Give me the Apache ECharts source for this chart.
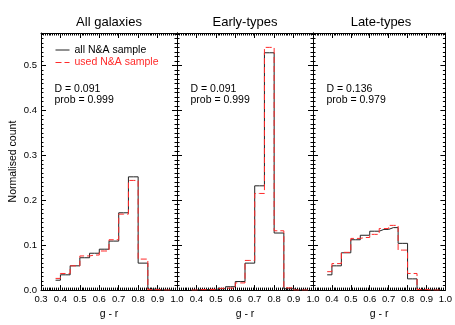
<!DOCTYPE html>
<html>
<head>
<meta charset="utf-8">
<script src="https://cdn.jsdelivr.net/npm/echarts@6/dist/echarts.min.js"></script>
<style>html,body{margin:0;padding:0;background:#fff;}#c{width:455px;height:325px;}</style>
</head>
<body>
<div id="c"></div>
<script>
// bin centres (g - r)
var binCentres = [0.375, 0.425, 0.475, 0.525, 0.575, 0.625, 0.675, 0.725, 0.775, 0.825, 0.875, 0.925, 0.975];
var panelTitles = ['All galaxies', 'Early-types', 'Late-types'];
var statD = ['0.091', '0.091', '0.136'];
var statProb = ['0.999', '0.999', '0.979'];
var seriesNames = ['all N&A sample', 'used N&A sample'];
// All galaxies
var allBlack = [0.022, 0.034, 0.054, 0.072, 0.082, 0.091, 0.109, 0.172, 0.252, 0.060, 0.002, 0.000, 0.000];
var allRed   = [0.026, 0.037, 0.054, 0.076, 0.078, 0.087, 0.112, 0.169, 0.244, 0.069, 0.001, 0.000, 0.000];
// Early-types
var earlyBlack = [0.000, 0.001, 0.0015, 0.003, 0.0075, 0.019, 0.060, 0.232, 0.528, 0.127, 0.003, 0.000, 0.000];
var earlyRed   = [0.000, 0.001, 0.0015, 0.004, 0.0045, 0.016, 0.066, 0.215, 0.540, 0.132, 0.005, 0.000, 0.000];
// Late-types
var lateBlack = [0.034, 0.054, 0.083, 0.112, 0.122, 0.131, 0.135, 0.139, 0.104, 0.025, 0.001, 0.000, 0.000];
var lateRed   = [0.041, 0.059, 0.084, 0.115, 0.117, 0.124, 0.137, 0.144, 0.089, 0.037, 0.0015, 0.000, 0.000];

var xMin = 0.3, xMax = 1.0, xStep = 0.1;
var yMin = 0, yMax = 0.572, yStep = 0.1;
var xLabel = 'g - r', yLabel = 'Normalised count';

var blackSets = [allBlack, earlyBlack, lateBlack];
var redSets = [allRed, earlyRed, lateRed];

var FONT = '"Liberation Sans", Arial, Helvetica, sans-serif';
var RED = '#ff2a2a';
var panelLeft = [41, 177, 313];
var panelW = 136, panelTop = 33, panelH = 257.7;

function pairs(vals) {
  return binCentres.map(function (x, i) { return [x, vals[i]]; });
}

var grids = [], xAxes = [], yAxes = [], series = [], graphics = [];
for (var p = 0; p < 3; p++) {
  grids.push({ left: panelLeft[p], top: panelTop, width: panelW, height: panelH, containLabel: false });
  var tickCommon = { show: true, inside: true, length: 5, lineStyle: { color: '#000', width: 1 } };
  var minorCommon = { show: true, splitNumber: 10, length: 2.5, lineStyle: { color: '#000', width: 1 } };
  xAxes.push({
    type: 'value', gridIndex: p, position: 'bottom', min: xMin, max: xMax, interval: xStep,
    axisLine: { show: true, onZero: false, lineStyle: { color: '#000', width: 1 } },
    axisTick: tickCommon, minorTick: minorCommon, splitLine: { show: false },
    axisLabel: {
      show: true, margin: 4, color: '#000', fontFamily: FONT, fontSize: 9.5,
      showMinLabel: p === 0, showMaxLabel: true,
      formatter: function (v) { return v.toFixed(1); }
    },
    name: xLabel, nameLocation: 'middle', nameGap: 16,
    nameTextStyle: { color: '#000', fontFamily: FONT, fontSize: 10.5 }
  });
  xAxes.push({
    type: 'value', gridIndex: p, position: 'top', min: xMin, max: xMax, interval: xStep,
    axisLine: { show: true, onZero: false, lineStyle: { color: '#000', width: 1 } },
    axisTick: tickCommon, minorTick: minorCommon, splitLine: { show: false },
    axisLabel: { show: false }
  });
  yAxes.push({
    type: 'value', gridIndex: p, position: 'left', min: yMin, max: yMax, interval: yStep,
    axisLine: { show: true, onZero: false, lineStyle: { color: '#000', width: 1 } },
    axisTick: tickCommon, minorTick: minorCommon, splitLine: { show: false },
    axisLabel: {
      show: p === 0, margin: 4, color: '#000', fontFamily: FONT, fontSize: 9.5,
      showMaxLabel: false,
      formatter: function (v) { return v.toFixed(1); }
    },
    name: p === 0 ? yLabel : '', nameLocation: 'middle', nameGap: 22,
    nameTextStyle: { color: '#000', fontFamily: FONT, fontSize: 10.5 }
  });
  yAxes.push({
    type: 'value', gridIndex: p, position: 'right', min: yMin, max: yMax, interval: yStep,
    axisLine: { show: true, onZero: false, lineStyle: { color: '#000', width: 1 } },
    axisTick: tickCommon, minorTick: minorCommon, splitLine: { show: false },
    axisLabel: { show: false }
  });
  series.push({
    name: seriesNames[0], type: 'line', xAxisIndex: 2 * p, yAxisIndex: 2 * p,
    step: 'middle', symbol: 'none', silent: true, animation: false,
    lineStyle: { color: '#222', width: 1, type: 'solid' }, itemStyle: { color: '#222' },
    data: pairs(blackSets[p])
  });
  series.push({
    name: seriesNames[1], type: 'line', xAxisIndex: 2 * p, yAxisIndex: 2 * p,
    step: 'middle', symbol: 'none', silent: true, animation: false,
    lineStyle: { color: RED, width: 1, type: [6, 3] }, itemStyle: { color: RED },
    data: pairs(redSets[p])
  });
  graphics.push({
    type: 'text', x: panelLeft[p] + panelW / 2, y: 22, silent: true,
    style: { text: panelTitles[p], fill: '#000', font: '13px ' + FONT, textAlign: 'center', textVerticalAlign: 'middle' }
  });
  graphics.push({
    type: 'text', x: panelLeft[p] + 13.5, y: 83, silent: true,
    style: { text: 'D = ' + statD[p] + '\nprob = ' + statProb[p], fill: '#000', font: '10.5px ' + FONT, lineHeight: 11.5, textVerticalAlign: 'top' }
  });
}

var chart = echarts.init(document.getElementById('c'), null, { renderer: 'canvas' });
chart.setOption({
  animation: false,
  backgroundColor: '#fff',
  grid: grids,
  xAxis: xAxes,
  yAxis: yAxes,
  legend: {
    orient: 'vertical', left: 50, top: 39.5, itemWidth: 14, itemHeight: 10, itemGap: 1.5,
    selectedMode: false,
    itemStyle: { opacity: 0 },
    lineStyle: { width: 1 },
    textStyle: { fontFamily: FONT, fontSize: 10.5, color: '#000' },
    data: [
      { name: seriesNames[0], textStyle: { color: '#000' } },
      { name: seriesNames[1], textStyle: { color: RED } }
    ]
  },
  graphic: graphics,
  series: series
});
</script>
</body>
</html>
